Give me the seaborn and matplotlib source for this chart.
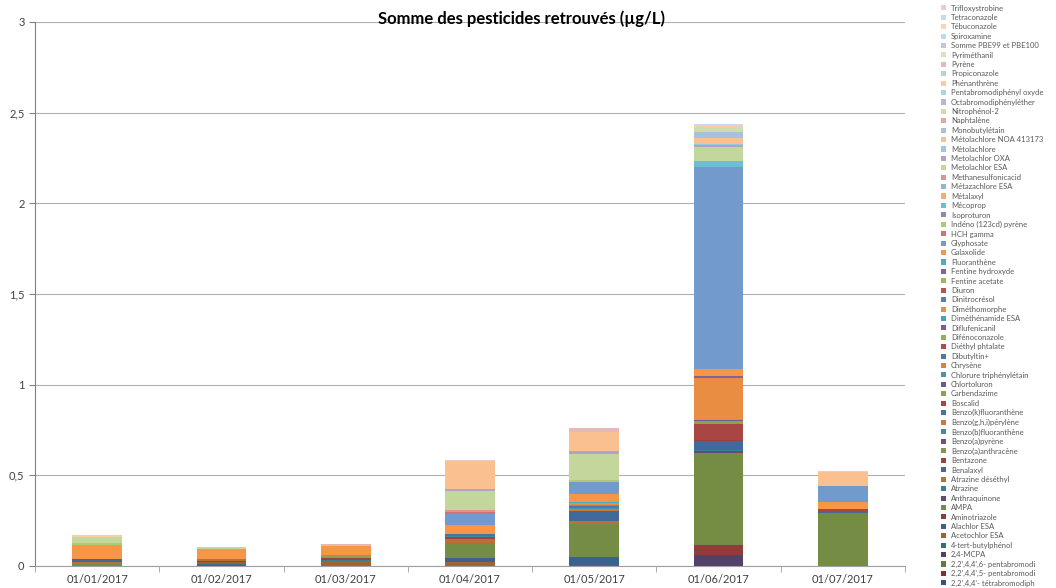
import pandas as pd
import seaborn as sns
import matplotlib.pyplot as plt
from matplotlib.patches import Patch
from matplotlib.colors import to_rgb
import numpy as np

plt.rcParams['font.family'] = ['Lato', 'DejaVu Sans']

# dates on the x axis
dates = ['01/01/2017', '01/02/2017', '01/03/2017', '01/04/2017',
         '01/05/2017', '01/06/2017', '01/07/2017']

# series, stacking order from the bottom up
names = [
    "2,2',4,4'- tétrabromodiph", "2,2',4,4',5- pentabromodi", "2,2',4,4',6- pentabromodi",
    "2,4-MCPA", "4-tert-butylphénol", "Acetochlor ESA",
    "Alachlor ESA", "Aminotriazole", "AMPA",
    "Anthraquinone", "Atrazine", "Atrazine déséthyl",
    "Benalaxyl", "Bentazone", "Benzo(a)anthracène",
    "Benzo(a)pyrène", "Benzo(b)fluoranthène", "Benzo(g,h,i)pérylène",
    "Benzo(k)fluoranthène", "Boscalid", "Carbendazime",
    "Chlortoluron", "Chlorure triphénylétain", "Chrysène",
    "Dibutyltin+", "Diéthyl phtalate", "Difénoconazole",
    "Diflufenicanil", "Diméthénamide ESA", "Diméthomorphe",
    "Dinitrocrésol", "Diuron", "Fentine acetate",
    "Fentine hydroxyde", "Fluoranthène", "Galaxolide",
    "Glyphosate", "HCH gamma", "Indéno (123cd) pyrène",
    "Isoproturon", "Mécoprop", "Métalaxyl",
    "Métazachlore ESA", "Methanesulfonicacid", "Metolachlor ESA",
    "Metolachlor OXA", "Métolachlore", "Métolachlore NOA 413173",
    "Monobutylétain", "Naphtalène", "Nitrophénol-2",
    "Octabromodiphényléther", "Pentabromodiphényl oxyde", "Phénanthrène",
    "Propiconazole", "Pyrène", "Pyriméthanil",
    "Somme PBE99 et PBE100", "Spiroxamine", "Tébuconazole",
    "Tetraconazole", "Trifloxystrobine",
]

# concentrations (µg/L), missing = 0
jan = {"AMPA": 0.013, "Atrazine déséthyl": 0.009, "Benalaxyl": 0.015,
       "Galaxolide": 0.077, "Indéno (123cd) pyrène": 0.013,
       "Metolachlor ESA": 0.033, "Phénanthrène": 0.009}
feb = {"4-tert-butylphénol": 0.013, "Acetochlor ESA": 0.009, "Anthraquinone": 0.006,
       "Atrazine déséthyl": 0.009, "Galaxolide": 0.056, "Metolachlor ESA": 0.011}
mar = {"Acetochlor ESA": 0.026, "Atrazine": 0.009, "Bentazone": 0.011,
       "Carbendazime": 0.013, "Galaxolide": 0.051, "Pyrène": 0.009}
apr = {"Acetochlor ESA": 0.022, "Alachlor ESA": 0.022, "AMPA": 0.085,
       "Atrazine déséthyl": 0.022, "Bentazone": 0.008, "Benzo(b)fluoranthène": 0.008,
       "Benzo(k)fluoranthène": 0.008, "Galaxolide": 0.053, "Glyphosate": 0.059,
       "HCH gamma": 0.012, "Methanesulfonicacid": 0.012, "Metolachlor ESA": 0.103,
       "Metolachlor OXA": 0.013, "Métolachlore NOA 413173": 0.153,
       "Trifloxystrobine": 0.006}
may = {"4-tert-butylphénol": 0.005, "Alachlor ESA": 0.046, "AMPA": 0.179,
       "Atrazine déséthyl": 0.02, "Benalaxyl": 0.053, "Benzo(g,h,i)pérylène": 0.01,
       "Chlorure triphénylétain": 0.008, "Dibutyltin+": 0.008,
       "Diméthénamide ESA": 0.008, "Diméthomorphe": 0.012, "Fluoranthène": 0.006,
       "Galaxolide": 0.042, "Glyphosate": 0.068, "Indéno (123cd) pyrène": 0.008,
       "Metolachlor ESA": 0.147, "Metolachlor OXA": 0.013,
       "Métolachlore NOA 413173": 0.107, "Pyrène": 0.019}
jun = {"2,4-MCPA": 0.059, "Aminotriazole": 0.055, "AMPA": 0.51,
       "Anthraquinone": 0.008, "Atrazine": 0.008, "Benalaxyl": 0.048,
       "Bentazone": 0.005, "Boscalid": 0.092, "Carbendazime": 0.012,
       "Chlortoluron": 0.008, "Diméthomorphe": 0.233, "Diuron": 0.005,
       "Fentine hydroxyde": 0.005, "Galaxolide": 0.04, "Glyphosate": 1.11,
       "Mécoprop": 0.035, "Metolachlor ESA": 0.079, "Metolachlor OXA": 0.01,
       "Métolachlore": 0.005, "Métolachlore NOA 413173": 0.033,
       "Monobutylétain": 0.035, "Nitrophénol-2": 0.018, "Phénanthrène": 0.015,
       "Tetraconazole": 0.011}
jul = {"AMPA": 0.294, "Benalaxyl": 0.006, "Boscalid": 0.016, "Galaxolide": 0.037,
       "Glyphosate": 0.09, "Métolachlore NOA 413173": 0.077, "Trifloxystrobine": 0.004}

# Excel-like palette: 6 base hues, darker at the bottom, lighter at the top
base = ['#4F81BD', '#C0504D', '#9BBB59', '#8064A2', '#4BACC6', '#F79646']
shade = [-0.35, -0.25, -0.18, -0.12, -0.06, 0, 0.2, 0.4, 0.5, 0.6, 0.7]
colors = []
for i in range(len(names)):
    c = np.array(to_rgb(base[i % 6]))
    s = shade[i // 6]
    if s < 0:
        c = c * (1 + s)
    else:
        c = c + (1 - c) * s
    colors.append(tuple(c))

rows = []
for d, vals in zip(dates, [jan, feb, mar, apr, may, jun, jul]):
    for n in names:
        rows.append({'date': d, 'pesticide': n, 'value': vals.get(n, 0.0)})
df = pd.DataFrame(rows)
df['pos'] = df['date'].map({d: i for i, d in enumerate(dates)})

fig = plt.figure(figsize=(10.56, 5.88), dpi=100)
ax = fig.add_axes([35 / 1056, 22 / 588, 870 / 1056, 544 / 588])

hue_order = names[::-1]
sns.histplot(data=df, x='pos', weights='value', hue='pesticide',
             hue_order=hue_order, palette=colors[::-1], multiple='stack',
             discrete=True, shrink=0.4, linewidth=0, alpha=1,
             legend=False, ax=ax)

ax.set_xlim(-0.5, len(dates) - 0.5)
ax.set_ylim(0, 3)
yt = np.arange(0, 3.01, 0.5)
ax.set_yticks(yt)
ax.set_yticklabels([('%g' % v).replace('.', ',') for v in yt])
ax.set_xticks(range(len(dates)))
ax.set_xticklabels(dates)
ax.set_xticks(np.arange(-0.5, len(dates), 1), minor=True)
ax.tick_params(axis='x', which='major', length=0, labelsize=8, colors='#404040', pad=6)
ax.tick_params(axis='x', which='minor', length=4, color='#a0a0a0')
ax.tick_params(axis='y', length=4, labelsize=8, colors='#404040', color='#808080')
ax.set_xlabel('')
ax.set_ylabel('')
ax.grid(axis='y', color='#b0b0b0', linewidth=0.8)
ax.set_axisbelow(True)
for s in ['top', 'right']:
    ax.spines[s].set_visible(False)
ax.spines['left'].set_color('#808080')
ax.spines['bottom'].set_color('#a0a0a0')

fig.text(0.494, 0.969, 'Somme des pesticides retrouvés (µg/L)',
         ha='center', va='center', fontsize=12, fontweight='bold')

handles = [Patch(facecolor=c, edgecolor='none') for c in colors[::-1]]
leg = fig.legend(handles, hue_order, loc='upper left', bbox_to_anchor=(0.887, 1.0),
                 frameon=False, fontsize=5.5, handlelength=0.65, handleheight=0.65,
                 handletextpad=0.6, labelspacing=0.315, borderaxespad=0.2)
for t in leg.get_texts():
    t.set_color('#595959')

fig.savefig('out.png', dpi=100)
